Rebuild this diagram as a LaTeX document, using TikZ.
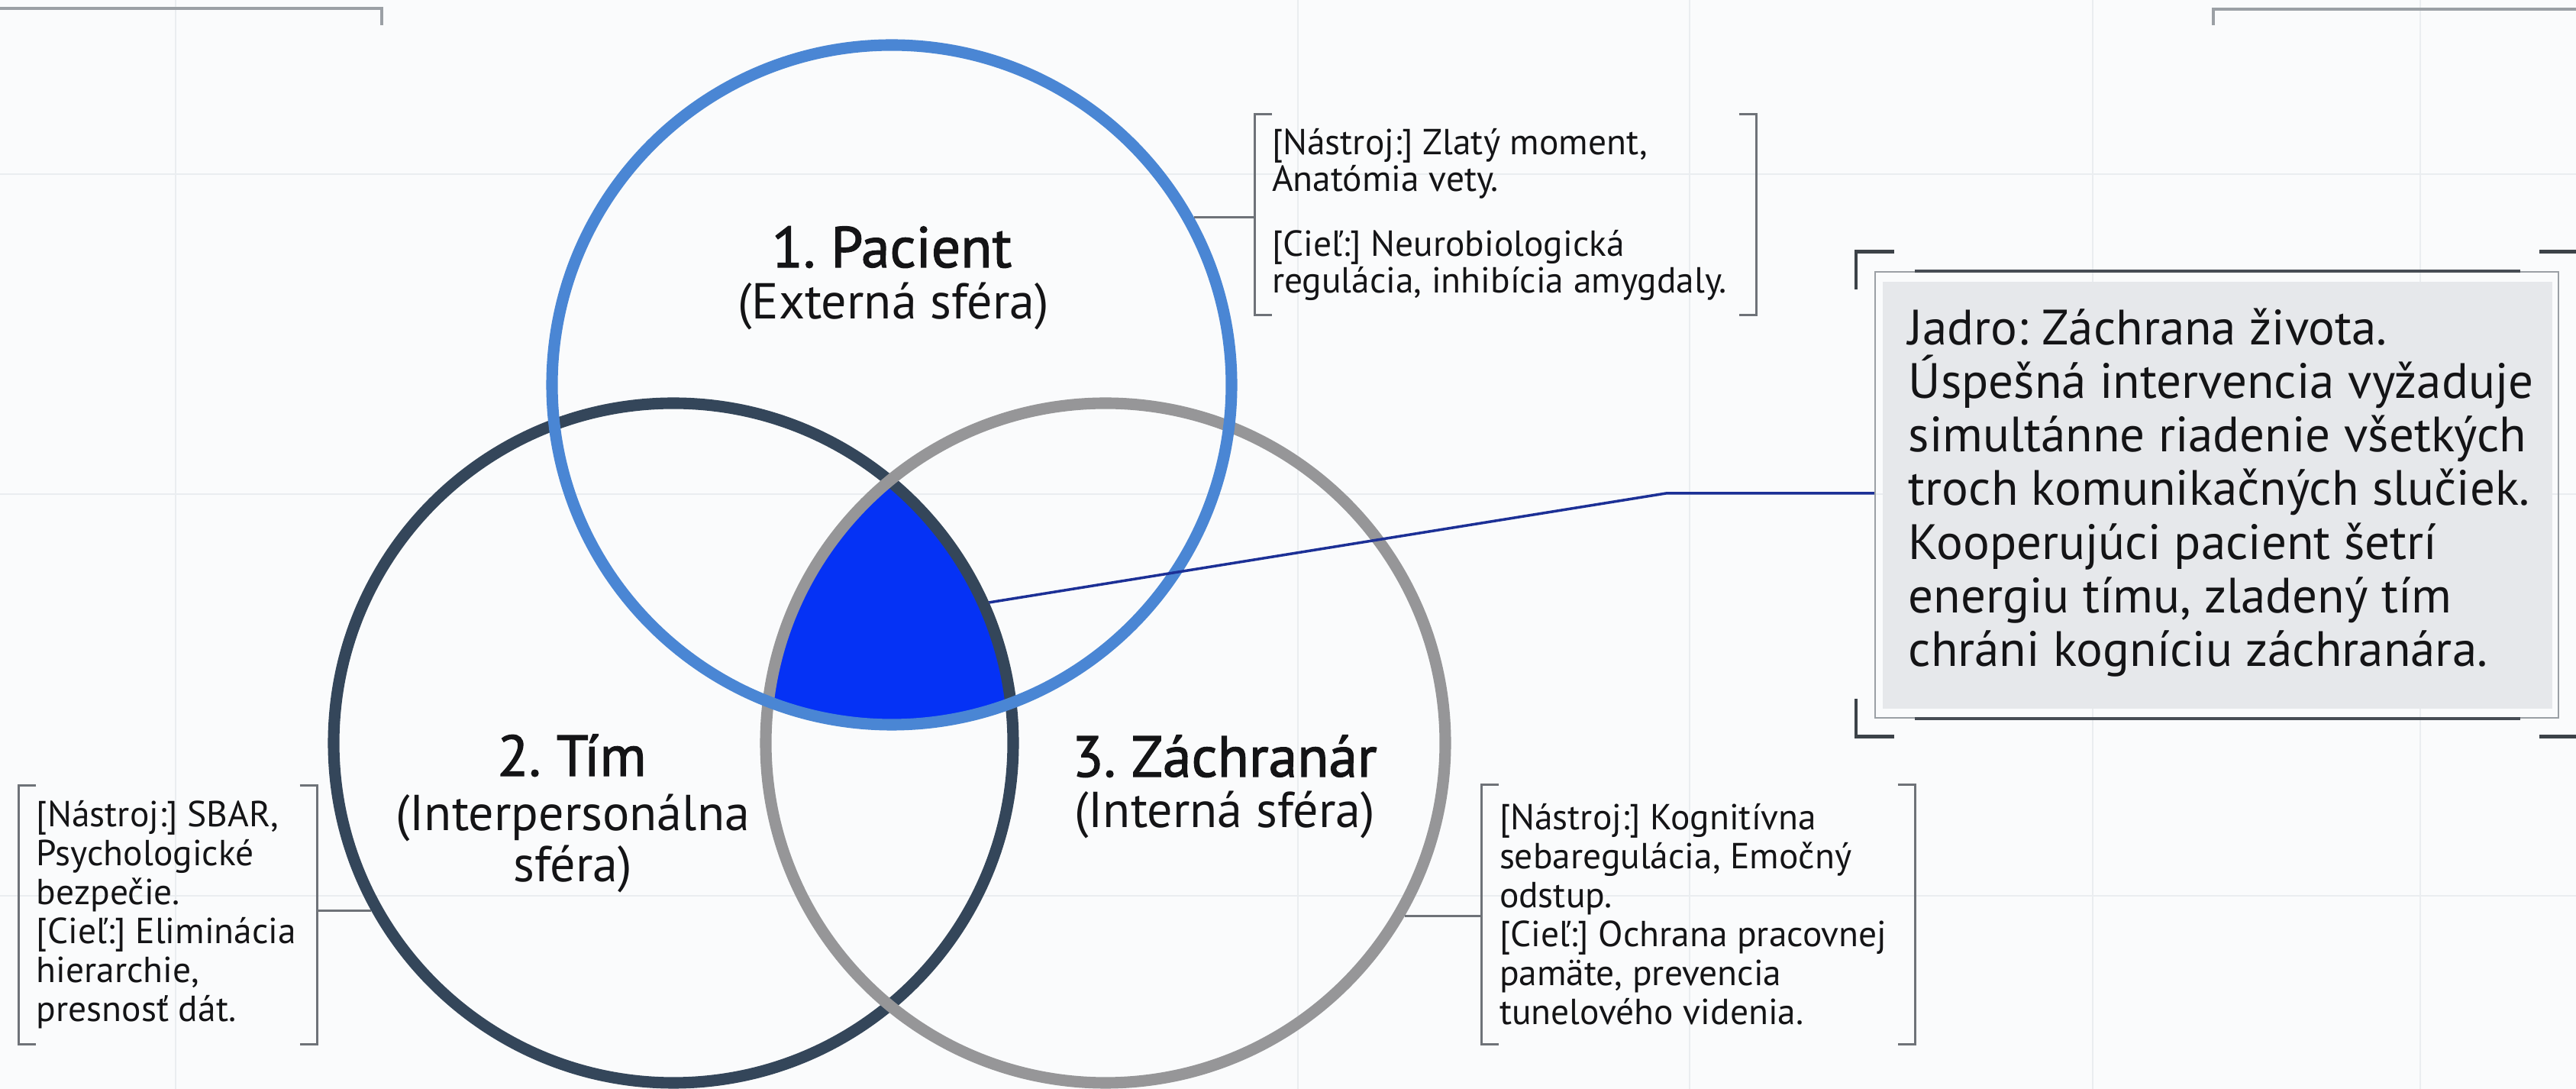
\documentclass[tikz,border=0pt]{standalone}
\usepackage{fontspec}
\setmainfont{PT Sans}
\newfontfamily\headfont{PT Sans}[FakeBold=1.6]
\frenchspacing
\definecolor{paper}{RGB}{250,251,252}
\definecolor{gridline}{RGB}{234,237,240}
\definecolor{ringblue}{RGB}{74,134,212}
\definecolor{ringdark}{RGB}{52,70,90}
\definecolor{ringgray}{RGB}{150,150,152}
\definecolor{coreblue}{RGB}{5,50,245}
\definecolor{linknavy}{RGB}{28,48,150}
\definecolor{notegray}{RGB}{110,114,120}
\definecolor{framegray}{RGB}{155,160,165}
\definecolor{framedark}{RGB}{70,76,84}
\definecolor{markgray}{RGB}{60,66,72}
\definecolor{boxgray}{RGB}{230,232,235}
\definecolor{inkblack}{RGB}{20,20,22}
\begin{document}
\begin{tikzpicture}[
    ring/.style={circle, draw, minimum size=8.9cm, inner sep=0pt, line width=4.3pt},
    title/.style={anchor=base, font=\headfont\fontsize{21.5}{24}\selectfont, text=inkblack},
    subtitle/.style={font=\fontsize{18.8}{19}\selectfont, text=inkblack, align=center},
    notebox/.style={inner sep=0pt},
    note/.style={anchor=west, align=left, inner sep=0pt,
      font=\fontsize{13.5}{14.5}\selectfont, text=inkblack},
    bracketline/.style={draw=notegray, line width=0.9pt},
    link/.style={draw=notegray, line width=0.9pt},
    cornermark/.style={draw=markgray, line width=1.4pt},
  ]
    %% page
    \useasboundingbox (0,0) rectangle (33.74,14.26);
    \fill[paper] (0,0) rectangle (33.74,14.26);
    %% faint grid
    \draw[gridline, line width=0.6pt] (2.30,0) -- (2.30,14.26) (17.00,0) -- (17.00,14.26)
        (22.13,0) -- (22.13,14.26) (27.41,0) -- (27.41,14.26) (31.70,0) -- (31.70,14.26);
    \draw[gridline, line width=0.6pt] (0,11.98) -- (33.74,11.98) (0,7.79) -- (33.74,7.79)
        (0,2.53) -- (33.74,2.53);
    %% top corners
    \draw[framegray, line width=0.9pt] (0,14.15) -- (5.00,14.15) -- (5.00,13.93);
    \draw[framegray, line width=0.9pt] (28.99,13.93) -- (28.99,14.14) -- (33.74,14.14);

    %% circle centres
    \coordinate (cP) at (11.68,9.22);
    \coordinate (cT) at (8.82,4.53);
    \coordinate (cZ) at (14.48,4.53);
    %% common core
    \begin{scope}
        \clip (cP) circle (4.45);
        \clip (cT) circle (4.45);
        \fill[coreblue] (cZ) circle (4.45);
    \end{scope}
    %% rings
    \node[ring, draw=ringdark] (tim) at (cT) {};
    \node[ring, draw=ringgray] (zachranar) at (cZ) {};
    \node[ring, draw=ringblue] (pacient) at (cP) {};

    %% labels
    \node[title] (pacTitle) at (11.68,10.76) {1. Pacient};
    \node[subtitle, anchor=base] (pacSub) at (11.70,10.08) {(Externá sféra)};
    \node[title] (timTitle) at (7.49,4.10) {2. Tím};
    \node[subtitle, anchor=center] (timSub) at (7.50,3.215) {(Interpersonálna\\sféra)};
    \node[title] (zachTitle) at (16.04,4.09) {3. Záchranár};
    \node[subtitle, anchor=base] (zachSub) at (16.04,3.42) {(Interná sféra)};

    %% notes
    \node[notebox, minimum width=6.56cm, minimum height=2.62cm] (pacBox) at (19.72,11.45) {};
    \node[note, font=\fontsize{13.5}{13.6}\selectfont] (pacNote) at ([xshift=0.22cm]pacBox.west)
        {{[}Nástroj:{]} Zlatý moment,\\Anatómia vety.\\[0.37cm]{[}Cieľ:{]} Neurobiologická\\regulácia, inhibícia amygdaly.};
    \node[notebox, minimum width=3.90cm, minimum height=3.38cm] (timBox) at (2.20,2.28) {};
    \node[note] (timNote) at ([xshift=0.23cm]timBox.west)
        {{[}Nástroj:{]} SBAR,\\Psychologické\\bezpečie.\\{[}Cieľ:{]} Eliminácia\\hierarchie,\\presnosť dát.};
    \node[notebox, minimum width=5.67cm, minimum height=3.39cm] (zachBox) at (22.245,2.285) {};
    \node[note] (zachNote) at ([xshift=0.23cm]zachBox.west)
        {{[}Nástroj:{]} Kognitívna\\sebaregulácia, Emočný\\odstup.\\{[}Cieľ:{]} Ochrana pracovnej\\pamäte, prevencia\\tunelového videnia.};
    %% brackets
    \draw[bracketline] ([xshift=0.23cm]pacBox.north west) -- (pacBox.north west) -- (pacBox.south west) -- ++(0.23,0);
    \draw[bracketline] ([xshift=-0.23cm]pacBox.north east) -- (pacBox.north east) -- (pacBox.south east) -- ++(-0.23,0);
    \draw[bracketline] ([xshift=0.23cm]timBox.north west) -- (timBox.north west) -- (timBox.south west) -- ++(0.23,0);
    \draw[bracketline] ([xshift=-0.23cm]timBox.north east) -- (timBox.north east) -- (timBox.south east) -- ++(-0.23,0);
    \draw[bracketline] ([xshift=0.23cm]zachBox.north west) -- (zachBox.north west) -- (zachBox.south west) -- ++(0.23,0);
    \draw[bracketline] ([xshift=-0.23cm]zachBox.north east) -- (zachBox.north east) -- (zachBox.south east) -- ++(-0.23,0);
    %% links
    \draw[link] (pacient.29.7) -- (pacient.29.7 -| pacBox.west);
    \draw[link] (tim.209.8) -- (tim.209.8 -| timBox.east);
    \draw[link] (zachranar.330.2) -- (zachranar.330.2 -| zachBox.west);

    %% core box
    \node[draw=framegray, line width=0.6pt, minimum width=8.95cm, minimum height=5.84cm] (jadroFrame) at (29.035,7.78) {};
    \fill[boxgray] ([shift={(0.11,-0.14)}]jadroFrame.north west) rectangle ([shift={(-0.09,0.13)}]jadroFrame.south east);
    \node[anchor=west, align=left, inner sep=0pt, text=inkblack, font=\fontsize{18.5}{20}\selectfont]
        (jadro) at (24.99,7.81)
        {Jadro: Záchrana života.\\Úspešná intervencia vyžaduje\\simultánne riadenie všetkých\\troch komunikačných slučiek.\\Kooperujúci pacient šetrí\\energiu tímu, zladený tím\\chráni kogníciu záchranára.};
    \draw[framedark, line width=1.2pt] ([xshift=0.53cm]jadroFrame.north west) -- ([xshift=-0.51cm]jadroFrame.north east);
    \draw[framedark, line width=1.2pt] ([xshift=0.53cm]jadroFrame.south west) -- ([xshift=-0.51cm]jadroFrame.south east);
    %% corner marks
    \draw[cornermark] ([shift={(0.26,0.25)}]jadroFrame.north west) -- ++(-0.50,0) -- ++(0,-0.49);
    \draw[cornermark] ([shift={(-0.26,0.25)}]jadroFrame.north east) -- ++(0.50,0) -- ++(0,-0.49);
    \draw[cornermark] ([shift={(0.26,-0.23)}]jadroFrame.south west) -- ++(-0.50,0) -- ++(0,0.49);
    \draw[cornermark] ([shift={(-0.26,-0.23)}]jadroFrame.south east) -- ++(0.50,0) -- ++(0,0.49);
    %% core link
    \coordinate (core) at (tim.24);
    \coordinate (bend) at (21.82,7.80);
    \draw[linknavy, line width=1pt] (core) -- (bend) -- (bend -| jadroFrame.west);
\end{tikzpicture}
\end{document}
